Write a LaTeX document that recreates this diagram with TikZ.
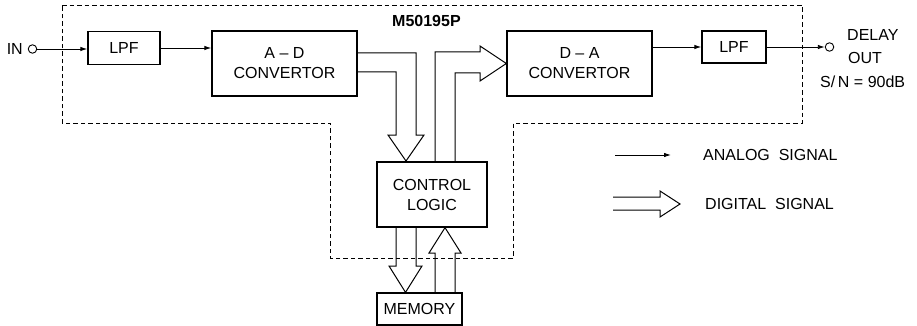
\documentclass[tikz,border=0pt]{standalone}
\usepackage{fontspec}
\setmainfont{Liberation Sans}
\usetikzlibrary{arrows.meta,calc}
\begin{document}
\begin{tikzpicture}[x=1pt,y=-1pt,
  blk/.style={draw,line width=1.3pt,inner sep=0pt,align=center,font=\fontsize{16}{20}\selectfont},
  lbl/.style={inner sep=0pt,anchor=west,font=\fontsize{16}{20}\selectfont},
  ana/.style={line width=0.9pt,-{Latex[length=7pt,width=4.5pt]}},
  dig/.style={line width=1pt,line join=miter},
  bound/.style={line width=0.9pt,dash pattern=on 4.5pt off 3pt},
  term/.style={circle,draw,line width=0.9pt,minimum size=8.5pt,inner sep=0pt}]
\useasboundingbox (0,0) rectangle (917,326);
% chip outline
\draw[bound] (62,5) -- (802,5) -- (802,123) -- (513,123) -- (513,258) -- (330,258) -- (330,123) -- (62,123) -- cycle;
\node[lbl,font=\fontsize{16}{20}\selectfont\bfseries] (chip) at (392,21) {M50195P};
% blocks
\node[blk,minimum width=72pt,minimum height=33pt] (lpfa) at (124,48) {LPF};
\node[blk,minimum width=145pt,minimum height=65pt] (ad) at (284.5,63.5) {A -- D\\CONVERTOR};
\node[blk,minimum width=145pt,minimum height=65pt] (da) at (579.5,63.5) {D -- A\\CONVERTOR};
\node[blk,minimum width=64pt,minimum height=32pt] (lpfb) at (734,47) {LPF};
\node[blk,minimum width=110pt,minimum height=65pt] (cl) at (432,194.5) {CONTROL\\LOGIC};
\node[blk,minimum width=85pt,minimum height=32pt] (mem) at (419.5,309) {MEMORY};
% terminals
\node[lbl,anchor=east] (in) at (23,49) {IN};
\node[term] (tin) at (32.5,49) {};
\node[term] (tout) at (829.5,47) {};
\node[lbl] (delay) at (847,35) {DELAY};
\node[lbl] (out) at (848,58) {OUT};
\node[lbl] (sn) at (820,82) {S/\,N = 90dB};
% analog connectors
\draw[ana] (tin.east) -- (tin.east -| lpfa.west);
\draw[ana] (lpfa.east) -- (lpfa.east -| ad.west);
\draw[ana] (lpfb.west -| da.east) -- (lpfb.west);
\draw[ana] (lpfb.east) -- (tout.west);
% digital connectors
\draw[dig] (ad.east |- 0,53) -- (416,53) -- (416,135) -- (424,135) -- (406,161) -- (388,135) -- (396,135) -- (396,72) -- (ad.east |- 0,72);
\draw[dig] (435,0 |- cl.north) -- (435,52) -- (480,52) -- (480,46) -- (da.west) -- (480,81) -- (480,73) -- (455,73) -- (455,0 |- cl.north);
\draw[dig] (396,0 |- cl.south) -- (396,266) -- (389,266) -- (405.5,0 |- mem.north) -- (422,266) -- (416,266) -- (416,0 |- cl.south);
\draw[dig] (435,0 |- mem.north) -- (435,253) -- (429,253) -- (445,0 |- cl.south) -- (461,253) -- (455,253) -- (455,0 |- mem.north);
% legend
\coordinate (la1) at (615,155);
\coordinate (la2) at (671,155);
\draw[ana] (la1) -- (la2);
\node[lbl] (lana) at (703,155) {ANALOG\ \ SIGNAL};
\draw[dig] (613,197) -- (660,197) -- (660,191) -- (680,204) -- (660,217) -- (660,210) -- (613,210);
\node[lbl] (ldig) at (705,204) {DIGITAL\ \ SIGNAL};
\end{tikzpicture}
\end{document}
